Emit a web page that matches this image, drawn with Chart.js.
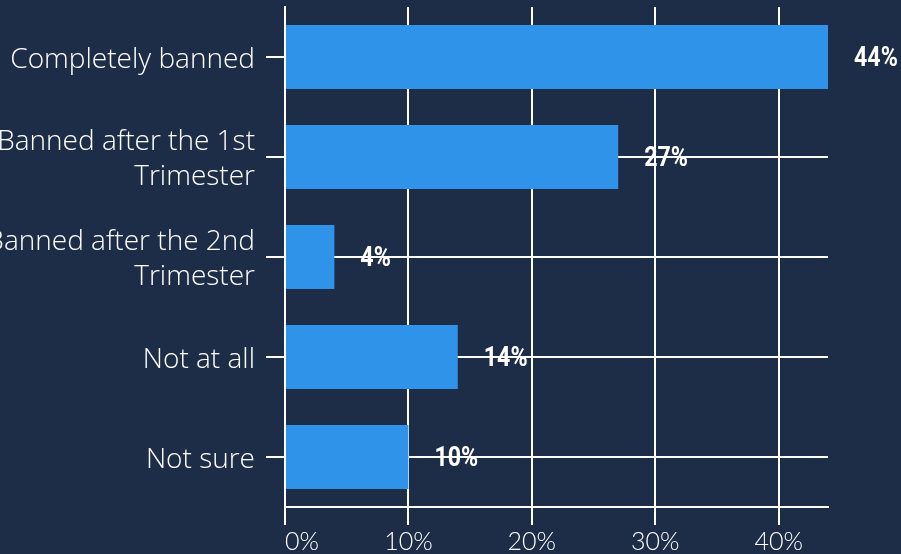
<!DOCTYPE html>
<html lang="en">
  <head>
    <meta charset="utf-8" />
    <title>Abortion views</title>
    <style>
      html, body {
        margin: 0;
        padding: 0;
        background: #1e2d47;
        overflow: hidden;
      }
      .chartBox {
        width: 901px;
        height: 554px;
      }
    </style>
  </head>
  <body>
    <div class="chartBox">
      <canvas id="myChart"></canvas>
    </div>

    <script src="https://cdn.jsdelivr.net/npm/chart.js/dist/chart.umd.min.js"></script>
    <script>
      // data
      const categories = [
        "Completely banned",
        ["Banned after the 1st", "Trimester"],
        ["Banned after the 2nd", "Trimester"],
        "Not at all",
        "Not sure",
      ];
      const values = [44, 27, 4, 14, 10];
      const xTicks = [0, 10, 20, 30, 40];
      const xMax = 44;

      const lineColor = "#ffffff";
      const catFont = { family: "'Open Sans', Lato, sans-serif", size: 28, weight: "300", lineHeight: 1.25 };
      const tickFont = { family: "Lato, sans-serif", size: 25, weight: "300" };

      // value labels next to each bar (narrowed bold text)
      const valueLabels = {
        id: "valueLabels",
        afterDatasetsDraw(chart) {
          const ctx = chart.ctx;
          const meta = chart.getDatasetMeta(0);
          const squeeze = 0.86;
          ctx.save();
          ctx.fillStyle = "#ffffff";
          ctx.font = "bold 27px Roboto, sans-serif";
          ctx.textAlign = "left";
          ctx.textBaseline = "middle";
          meta.data.forEach((bar, i) => {
            ctx.save();
            ctx.translate(bar.x + 26, bar.y + 2);
            ctx.scale(squeeze, 1);
            ctx.fillText(values[i] + "%", 0, 0);
            ctx.restore();
          });
          ctx.restore();
        },
      };

      const config = {
        type: "bar",
        data: {
          labels: categories,
          datasets: [
            {
              data: values,
              backgroundColor: "#2f94e9",
              borderWidth: 0,
              barPercentage: 0.8,
              categoryPercentage: 0.8,
            },
          ],
        },
        options: {
          indexAxis: "y",
          responsive: true,
          maintainAspectRatio: false,
          animation: false,
          layout: { padding: { top: 7, right: 73, left: 0, bottom: 0 } },
          scales: {
            x: {
              min: 0,
              max: xMax,
              afterBuildTicks: (scale) => {
                scale.ticks = xTicks.concat([xMax]).map((v) => ({ value: v }));
              },
              afterFit: (scale) => {
                scale.height = 47;
                scale.paddingLeft = 0;
                scale.paddingRight = 0;
              },
              grid: {
                color: (c) => (c.tick && c.tick.value === xMax ? "rgba(0,0,0,0)" : lineColor),
                lineWidth: 2,
                tickLength: 18,
              },
              border: { color: lineColor, width: 2 },
              ticks: {
                color: "#ffffff",
                font: tickFont,
                padding: 2,
                align: "inner",
                maxRotation: 0,
                autoSkip: false,
                callback: (v) => (v === xMax ? "" : v + "%"),
              },
            },
            y: {
              afterFit: (scale) => {
                scale.width = 285;
                scale.paddingTop = 0;
                scale.paddingBottom = 0;
              },
              grid: {
                offset: false,
                color: lineColor,
                lineWidth: 2,
                tickLength: 19,
              },
              border: { color: lineColor, width: 2 },
              ticks: {
                color: "#ffffff",
                font: catFont,
                padding: 11,
                labelOffset: 3,
                autoSkip: false,
              },
            },
          },
          plugins: {
            legend: { display: false },
            tooltip: { enabled: false },
          },
        },
        plugins: [valueLabels],
      };

      const myChart = new Chart(document.getElementById("myChart"), config);
    </script>
  </body>
</html>
